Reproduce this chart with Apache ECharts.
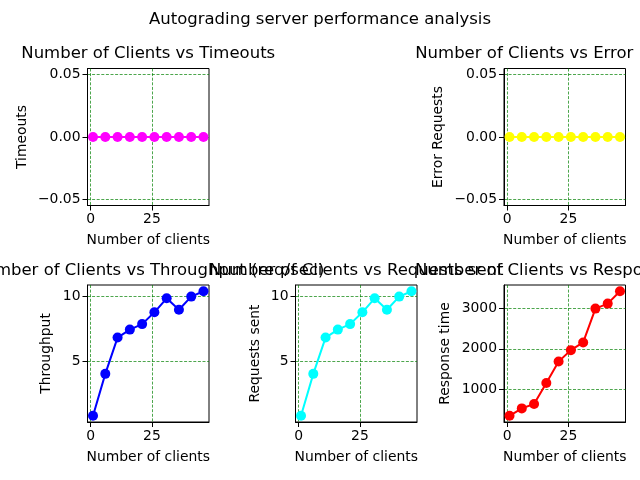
<!DOCTYPE html>
<html><head><meta charset="utf-8">
<script src="https://cdn.jsdelivr.net/npm/echarts@6/dist/echarts.min.js"></script>
<style>html,body{margin:0;padding:0;background:#fff}#c{width:640px;height:480px}</style>
</head><body><div id="c"></div>
<script>
const clients = [1, 6, 11, 16, 21, 26, 31, 36, 41, 46];
const timeouts = [0, 0, 0, 0, 0, 0, 0, 0, 0, 0];
const errorRequests = [0, 0, 0, 0, 0, 0, 0, 0, 0, 0];
const throughput = [0.85, 4.05, 6.82, 7.43, 7.85, 8.75, 9.82, 8.95, 9.95, 10.36];
const requestsSent = [0.85, 4.05, 6.82, 7.43, 7.85, 8.75, 9.82, 8.95, 9.95, 10.36];
const responseTime = [333, 517, 625, 1150, 1683, 1967, 2158, 3000, 3125, 3433];
const xTicks = [0, 25];
const zeroTicks = [-0.05, 0, 0.05];
const rateTicks = [5, 10];
const respTicks = [1000, 2000, 3000];

const FONT = 'DejaVu Sans';
const panels = [
  {title:'Number of Clients vs Timeouts', yname:'Timeouts', data:timeouts, color:'#ff00ff', l:87.5, t:68.5, yticks:zeroTicks, fmt:v=>v.toFixed(2).replace('-', '\u2212'), ymin:-0.055, ymax:0.055, gap:58},
  {title:'Number of Clients vs Error Requests', yname:'Error Requests', data:errorRequests, color:'#ffff00', l:504, t:68.5, yticks:zeroTicks, fmt:v=>v.toFixed(2).replace('-', '\u2212'), ymin:-0.055, ymax:0.055, gap:59},
  {title:'Number of Clients vs Throughput (req/sec)', yname:'Throughput', data:throughput, color:'#0000ff', l:87.5, t:285, yticks:rateTicks, fmt:v=>String(v), gap:34},
  {title:'Number of Clients vs Requests sent', yname:'Requests sent', data:requestsSent, color:'#00ffff', l:295.5, t:285, yticks:rateTicks, fmt:v=>String(v), gap:33},
  {title:'Number of Clients vs Response time', yname:'Response time', data:responseTime, color:'#ff0000', l:504, t:285, yticks:respTicks, fmt:v=>String(v), gap:52}
];
const W = 121.5, H = 137;
const pad = (arr, lo) => {
  const mn = Math.min(...arr), mx = Math.max(...arr), m = (mx - mn) * 0.05;
  return lo ? mn - m : mx + m;
};
const xmin = pad(clients, true), xmax = pad(clients, false);

const option = {
  animation: false,
  backgroundColor: '#fff',
  title: [{text:'Autograding server performance analysis', left:320, top:11, textAlign:'center', padding:0,
    textStyle:{fontFamily:FONT, fontSize:16.5, fontWeight:'normal', color:'#000'}}].concat(
    panels.map(p => ({text:p.title, left:p.l + W/2, top:p.t - 23, textAlign:'center', padding:0,
      textStyle:{fontFamily:FONT, fontSize:16.5, fontWeight:'normal', color:'#000'}}))),
  grid: panels.map(p => ({left:p.l, top:p.t, width:W, height:H, show:true, borderColor:'#000', borderWidth:1,
    backgroundColor:'transparent', containLabel:false, outerBoundsMode:'none'})),
  xAxis: panels.map((p, i) => ({type:'value', gridIndex:i, min:xmin, max:xmax,
    name:'Number of clients', nameLocation:'middle', nameGap:28,
    nameTextStyle:{fontFamily:FONT, fontSize:13.9, color:'#000'},
    axisLine:{show:true, onZero:false, lineStyle:{color:'#000', width:1}},
    axisTick:{show:true, length:5, customValues:xTicks, lineStyle:{color:'#000'}},
    axisLabel:{customValues:xTicks, fontFamily:FONT, fontSize:13.9, color:'#000', margin:7, formatter:v=>String(v)},
    splitLine:{show:true, lineStyle:{color:'#008000', width:0.7, type:[3,1.6]}}
  })),
  yAxis: panels.map((p, i) => ({type:'value', gridIndex:i,
    min: p.ymin !== undefined ? p.ymin : pad(p.data, true),
    max: p.ymax !== undefined ? p.ymax : pad(p.data, false),
    name:p.yname, nameLocation:'middle', nameRotate:90, nameGap:p.gap,
    nameTextStyle:{fontFamily:FONT, fontSize:13.9, color:'#000'},
    axisLine:{show:true, onZero:false, lineStyle:{color:'#000', width:1}},
    axisTick:{show:true, length:5, customValues:p.yticks, lineStyle:{color:'#000'}},
    axisLabel:{customValues:p.yticks, fontFamily:FONT, fontSize:13.9, color:'#000', margin:7, formatter:p.fmt},
    splitLine:{show:true, lineStyle:{color:'#008000', width:0.7, type:[3,1.6]}}
  })),
  series: panels.map((p, i) => ({type:'line', xAxisIndex:i, yAxisIndex:i,
    data: clients.map((c, k) => [c, p.data[k]]),
    symbol:'circle', symbolSize:10, showSymbol:true,
    lineStyle:{color:p.color, width:2}, itemStyle:{color:p.color},
    emphasis:{disabled:true}, clip:false, z:3
  }))
};
const chart = echarts.init(document.getElementById('c'), null, {renderer:'canvas'});
chart.setOption(option);
</script></body></html>
